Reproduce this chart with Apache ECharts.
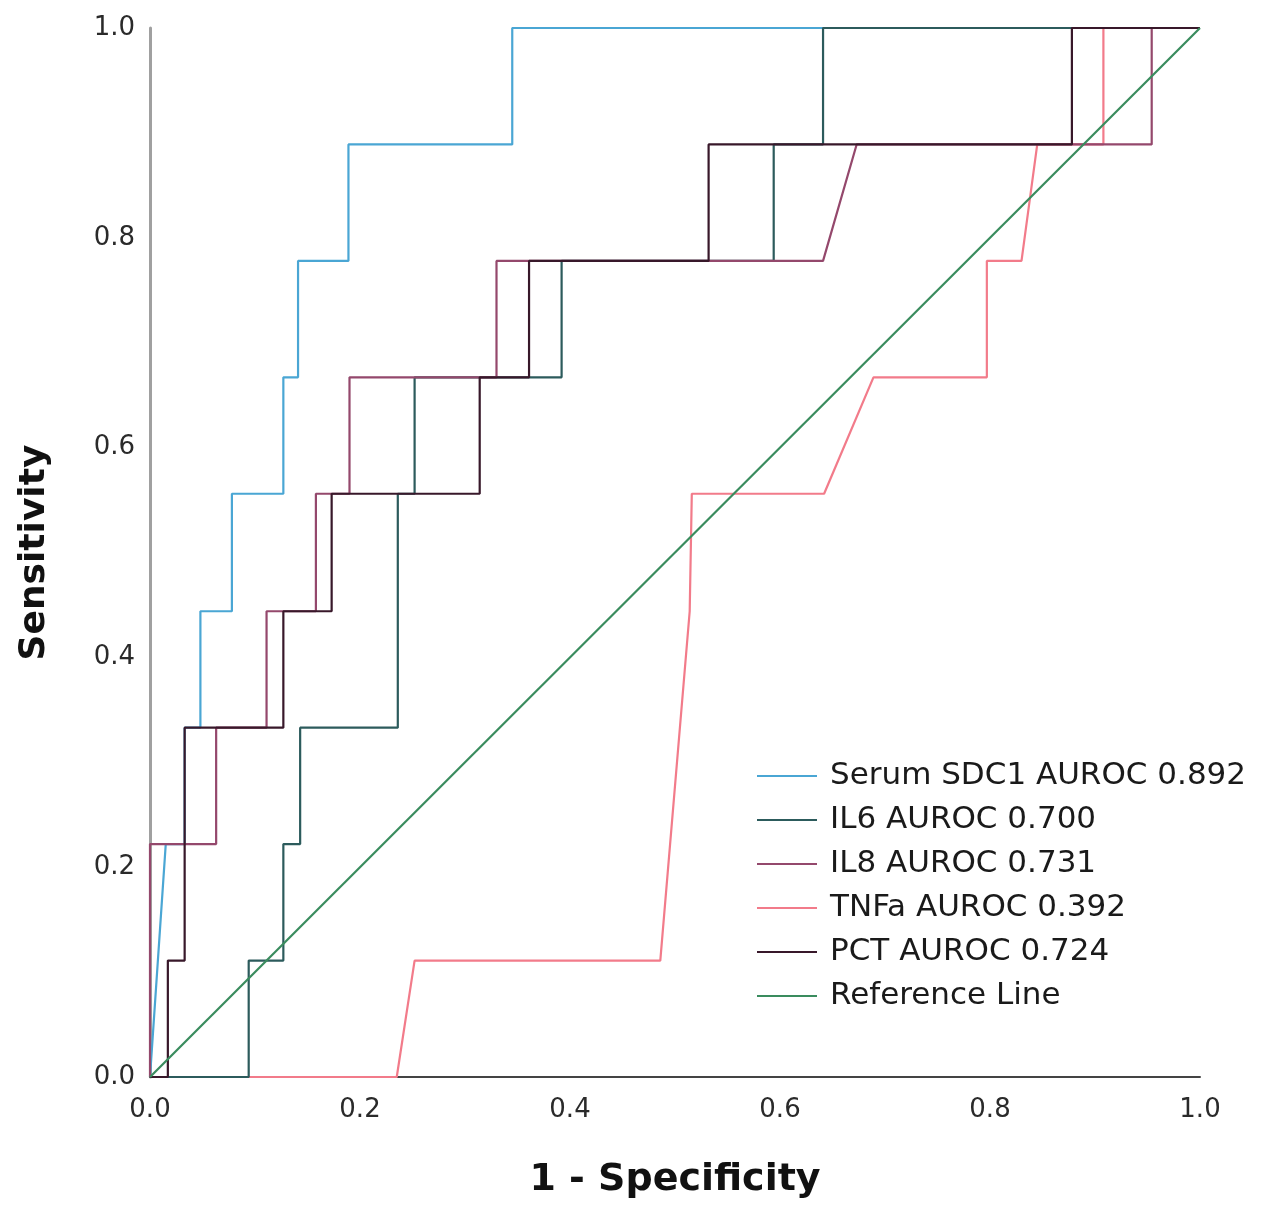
<!DOCTYPE html>
<html>
<head>
<meta charset="utf-8">
<title>ROC curves</title>
<script src="https://cdn.jsdelivr.net/npm/echarts@6/dist/echarts.min.js"></script>
<style>
  html, body { margin: 0; padding: 0; background: #fff; }
  #main { width: 1278px; height: 1208px; }
</style>
</head>
<body>
<div id="main"></div>
<script>
// ticks
var ticks = [0, 0.2, 0.4, 0.6, 0.8, 1.0];

// 1 - specificity (x) and sensitivity (y) for each curve
var sdc1X = [0, 0.015, 0.033, 0.033, 0.048, 0.048, 0.078, 0.078, 0.127, 0.127, 0.141, 0.141, 0.189, 0.189, 0.345, 0.345, 1];
var sdc1Y = [0, 0.222, 0.222, 0.333, 0.333, 0.444, 0.444, 0.556, 0.556, 0.667, 0.667, 0.778, 0.778, 0.889, 0.889, 1, 1];

var il6X = [0, 0.094, 0.094, 0.127, 0.127, 0.143, 0.143, 0.236, 0.236, 0.252, 0.252, 0.392, 0.392, 0.594, 0.594, 0.641, 0.641, 1];
var il6Y = [0, 0, 0.111, 0.111, 0.222, 0.222, 0.333, 0.333, 0.556, 0.556, 0.667, 0.667, 0.778, 0.778, 0.889, 0.889, 1, 1];

var il8X = [0, 0, 0.063, 0.063, 0.111, 0.111, 0.158, 0.158, 0.190, 0.190, 0.330, 0.330, 0.641, 0.673, 0.954, 0.954, 1];
var il8Y = [0, 0.222, 0.222, 0.333, 0.333, 0.444, 0.444, 0.556, 0.556, 0.667, 0.667, 0.778, 0.778, 0.889, 0.889, 1, 1];

var tnfX = [0, 0.235, 0.252, 0.486, 0.514, 0.516, 0.642, 0.689, 0.797, 0.797, 0.830, 0.845, 0.908, 0.908, 1];
var tnfY = [0, 0, 0.111, 0.111, 0.444, 0.556, 0.556, 0.667, 0.667, 0.778, 0.778, 0.889, 0.889, 1, 1];

var pctX = [0, 0.017, 0.017, 0.033, 0.033, 0.127, 0.127, 0.173, 0.173, 0.314, 0.314, 0.361, 0.361, 0.532, 0.532, 0.878, 0.878, 1];
var pctY = [0, 0, 0.111, 0.111, 0.333, 0.333, 0.444, 0.444, 0.556, 0.556, 0.667, 0.667, 0.778, 0.778, 0.889, 0.889, 1, 1];

var refX = [0, 1];
var refY = [0, 1];

var names = ['Serum SDC1 AUROC 0.892', 'IL6 AUROC 0.700', 'IL8 AUROC 0.731', 'TNFa AUROC 0.392', 'PCT AUROC 0.724', 'Reference Line'];

function pairs(xs, ys) {
    return xs.map(function (x, i) { return [x, ys[i]] })
}

function curve(name, xs, ys, color, z) {
    return {
        name: name,
        type: 'line',
        data: pairs(xs, ys),
        symbol: 'none',
        z: z,
        lineStyle: { color: color, width: 2.2 },
        itemStyle: { color: color },
        animation: false
    }
}

var font = '"DejaVu Sans", sans-serif';
var chart = echarts.init(document.getElementById('main'));
var option = {
    backgroundColor: '#fff',
    animation: false,
    grid: { left: 150, top: 28, width: 1050, height: 1049 },
    legend: {
        orient: 'vertical',
        left: 752,
        top: 753,
        icon: 'rect',
        itemWidth: 60,
        itemHeight: 2,
        itemGap: 8,
        data: names,
        textStyle: { fontFamily: font, fontSize: 31, color: '#1a1a1a', lineHeight: 36, padding: [0, 0, 0, 8] }
    },
    xAxis: {
        type: 'value',
        min: 0, max: 1, interval: 0.2,
        name: '1 - Specificity',
        nameLocation: 'middle',
        nameGap: 84,
        nameTextStyle: { fontFamily: font, fontSize: 38, fontWeight: 'bold', color: '#111' },
        axisLine: { lineStyle: { color: '#444', width: 2 } },
        axisTick: { show: false },
        splitLine: { show: false },
        axisLabel: {
            margin: 20, fontFamily: font, fontSize: 26, color: '#2a2a2a',
            formatter: function (v) { return v.toFixed(1) }
        }
    },
    yAxis: {
        type: 'value',
        min: 0, max: 1, interval: 0.2,
        name: 'Sensitivity',
        nameLocation: 'middle',
        nameGap: 97,
        nameTextStyle: { fontFamily: font, fontSize: 36, fontWeight: 'bold', color: '#111' },
        axisLine: { show: true, lineStyle: { color: '#a0a0a0', width: 3 } },
        axisTick: { show: false },
        splitLine: { show: false },
        axisLabel: {
            margin: 15, fontFamily: font, fontSize: 26, color: '#2a2a2a',
            formatter: function (v) { return v.toFixed(1) }
        }
    },
    series: [
        curve(names[0], sdc1X, sdc1Y, '#4aa6d4', 2),
        curve(names[1], il6X, il6Y, '#2c5b5c', 3),
        curve(names[2], il8X, il8Y, '#94486c', 4),
        curve(names[3], tnfX, tnfY, '#f27b8a', 2),
        curve(names[4], pctX, pctY, '#38182a', 5),
        curve(names[5], refX, refY, '#3a8c5e', 6)
    ]
};
chart.setOption(option);
</script>
</body>
</html>
